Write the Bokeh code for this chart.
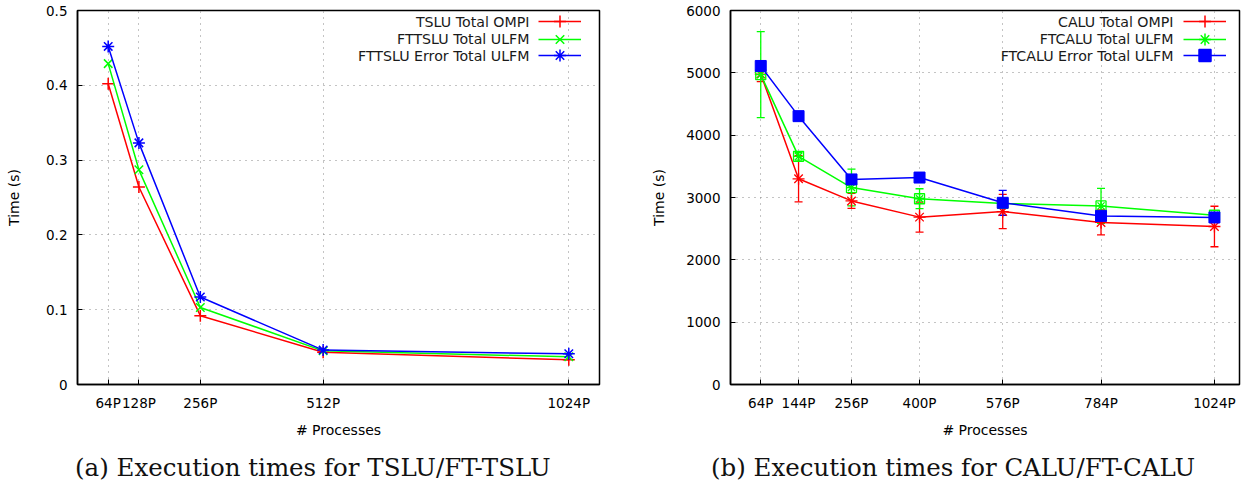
from bokeh.plotting import figure
from bokeh.models import (ColumnDataSource, Whisker, TeeHead, FixedTicker, Legend,
                          LegendItem, Label, Range1d, Div)
from bokeh.layouts import row, column
from bokeh.embed import file_html
from bokeh.resources import INLINE
from bokeh.core.properties import value
import numpy as np

# ---------------- data ----------------
left_procs = [64, 128, 256, 512, 1024]
left_labels = ["64P", "128P", "256P", "512P", "1024P"]
tslu_ompi = [0.402, 0.264, 0.092, 0.043, 0.033]
fttslu_ulfm = [0.429, 0.287, 0.103, 0.045, 0.037]
fttslu_err_ulfm = [0.452, 0.323, 0.117, 0.046, 0.041]

right_procs = [64, 144, 256, 400, 576, 784, 1024]
right_labels = ["64P", "144P", "256P", "400P", "576P", "784P", "1024P"]
calu_ompi = [4980, 3300, 2945, 2685, 2775, 2600, 2535]
calu_ompi_dev = [120, 370, 120, 240, 275, 200, 325]
ftcalu_ulfm = [4970, 3660, 3160, 2980, 2905, 2865, 2715]
ftcalu_ulfm_dev = [690, 60, 295, 160, 60, 280, 40]
ftcalu_err_ulfm = [5110, 4305, 3290, 3320, 2915, 2705, 2680]
ftcalu_err_ulfm_dev = [40, 40, 60, 40, 200, 50, 40]

left_names = ["TSLU Total OMPI", "FTTSLU Total ULFM", "FTTSLU Error Total ULFM"]
right_names = ["CALU Total OMPI", "FTCALU Total ULFM", "FTCALU Error Total ULFM"]
captions = ["(a) Execution times for TSLU/FT-TSLU", "(b) Execution times for CALU/FT-CALU"]

RED, GREEN, BLUE = "#ff0000", "#00ff00", "#0000ff"
SANS = "DejaVu Sans"


def style(p, xticks, xlabels, yticks, yoverrides, ylab_standoff):
    p.outline_line_color = "black"
    p.outline_line_width = 1.5
    for ax in (p.xaxis[0], p.yaxis[0]):
        ax.axis_line_color = "black"
        ax.axis_line_width = 1.5
        ax.major_tick_in = 5
        ax.major_tick_out = 0
        ax.minor_tick_in = 0
        ax.minor_tick_out = 0
        ax.major_label_text_font = SANS
        ax.major_label_text_font_size = "13.5px"
        ax.major_label_text_color = "black"
        ax.axis_label_text_font = SANS
        ax.axis_label_text_font_size = "14px"
        ax.axis_label_text_font_style = "normal"
        ax.axis_label_text_color = "black"
        ax.major_label_standoff = 10
    p.xaxis[0].ticker = FixedTicker(ticks=xticks)
    p.xaxis[0].major_label_overrides = {t: l for t, l in zip(xticks, xlabels)}
    p.yaxis[0].ticker = FixedTicker(ticks=yticks)
    p.yaxis[0].major_label_overrides = yoverrides
    p.xaxis[0].axis_label_standoff = 8
    p.yaxis[0].axis_label_standoff = ylab_standoff
    for g in (p.xgrid[0], p.ygrid[0]):
        g.grid_line_color = "#888888"
        g.grid_line_dash = "1 5"
        g.grid_line_width = 1
    p.background_fill_color = "white"
    p.border_fill_color = "white"


ROW = 17      # legend row pitch (px)
GH = 30       # legend glyph box height, so that markers get a readable size


def legend_and_text(p, items, names, x_glyph, x_text, y_text_top):
    # one single-row legend per entry; y_text_top = frame-relative centre of row 1
    for i, (it, nm) in enumerate(zip(items, names)):
        cy = y_text_top - ROW * i
        leg = Legend(items=[it], location=(x_glyph, int(round(cy - GH / 2))), padding=0,
                     margin=0, spacing=0, glyph_width=43, glyph_height=GH, label_standoff=0,
                     label_width=0, label_height=GH, label_text_font_size="1px",
                     label_text_alpha=0, border_line_alpha=0, background_fill_alpha=0)
        p.add_layout(leg)
        p.add_layout(Label(x=x_text, y=cy, x_units="screen",
                           y_units="screen", text=nm, text_align="right",
                           text_baseline="middle", text_font=SANS,
                           text_font_size="14.2px", text_color="#1a1a1a"))


def legend_renderers(p, colr, mk, size):
    # a single NaN point: nothing is drawn in the plot, but the legend gets a sample
    e = ColumnDataSource(dict(x=[np.nan], y=[np.nan]))
    r1 = p.line("x", "y", source=e, color=colr, line_width=1.5)
    r2 = p.scatter("x", "y", source=e, marker=mk, size=size, line_color=colr,
                   fill_color=colr, line_width=1.5)
    return [r1, r2]


# ---------------- left panel ----------------
p1 = figure(width=620, height=440, output_backend="svg", toolbar_location=None,
            x_range=Range1d(0, 1088), y_range=Range1d(0, 0.5),
            min_border_left=77, min_border_right=21, min_border_top=10, min_border_bottom=49,
            x_axis_label="# Processes", y_axis_label="Time (s)")
style(p1, left_procs, left_labels, [0, 0.1, 0.2, 0.3, 0.4, 0.5],
      {0: "0", 0.1: "0.1", 0.2: "0.2", 0.3: "0.3", 0.4: "0.4", 0.5: "0.5"}, 21)

src1 = ColumnDataSource(dict(x=left_procs, a=tslu_ompi, b=fttslu_ulfm, c=fttslu_err_ulfm))
for col, colr, mk in (("a", RED, "cross"), ("b", GREEN, "x"), ("c", BLUE, "asterisk")):
    p1.line("x", col, source=src1, color=colr, line_width=1.5)
    p1.scatter("x", col, source=src1, marker=mk, size=12, line_color=colr, line_width=1.5)
items1 = [LegendItem(label=value(""), renderers=legend_renderers(p1, c, m, 12))
          for c, m in zip((RED, GREEN, BLUE), ("cross", "x", "asterisk"))]
legend_and_text(p1, items1, left_names, 461, 452, 362.5)

# ---------------- right panel ----------------
p2 = figure(width=621, height=440, output_backend="svg", toolbar_location=None,
            x_range=Range1d(0, 1077), y_range=Range1d(0, 6000),
            min_border_left=110, min_border_right=2, min_border_top=10, min_border_bottom=49,
            x_axis_label="# Processes", y_axis_label="Time (s)")
style(p2, right_procs, right_labels, [0, 1000, 2000, 3000, 4000, 5000, 6000], {}, 16)

rp = np.array(right_procs)
series = [
    (np.array(calu_ompi), np.array(calu_ompi_dev), RED),
    (np.array(ftcalu_ulfm), np.array(ftcalu_ulfm_dev), GREEN),
    (np.array(ftcalu_err_ulfm), np.array(ftcalu_err_ulfm_dev), BLUE),
]
for vals, dev, colr in series:
    s = ColumnDataSource(dict(x=rp, y=vals, lo=vals - dev, hi=vals + dev))
    w = Whisker(base="x", upper="hi", lower="lo", source=s, line_color=colr, line_width=1.3,
                upper_head=TeeHead(size=8, line_color=colr, line_width=1.3),
                lower_head=TeeHead(size=8, line_color=colr, line_width=1.3))
    p2.add_layout(w)
for vals, dev, colr in series:
    s = ColumnDataSource(dict(x=rp, y=vals))
    p2.line("x", "y", source=s, color=colr, line_width=1.5)
    if colr == RED:
        p2.scatter("x", "y", source=s, marker="asterisk", size=12, line_color=colr, line_width=1.3)
    elif colr == GREEN:
        p2.scatter("x", "y", source=s, marker="square", size=10, line_color=colr,
                   fill_alpha=0, line_width=1.3)
        p2.scatter("x", "y", source=s, marker="asterisk", size=10, line_color=colr, line_width=1.3)
    else:
        p2.scatter("x", "y", source=s, marker="square", size=11, line_color=colr,
                   fill_color=colr, line_width=1)

items2 = [LegendItem(label=value(""), renderers=legend_renderers(p2, c, m, s))
          for c, m, s in zip((RED, GREEN, BLUE), ("cross", "asterisk", "square"), (12, 12, 11))]
legend_and_text(p2, items2, right_names, 453, 443, 362.5)

cap_style = ("font-family:'DejaVu Serif';font-size:24.5px;line-height:24.5px;color:#111;"
             "white-space:nowrap;padding-top:11px;")
d1 = Div(text=f"<div style=\"{cap_style}padding-left:70px;\">{captions[0]}</div>",
         width=625, height=44)
d2 = Div(text=f"<div style=\"{cap_style}padding-left:71px;\">{captions[1]}</div>",
         width=614, height=44)

layout = column(row(p1, p2), row(d1, d2))
open("out.html", "w").write(file_html(layout, INLINE))
